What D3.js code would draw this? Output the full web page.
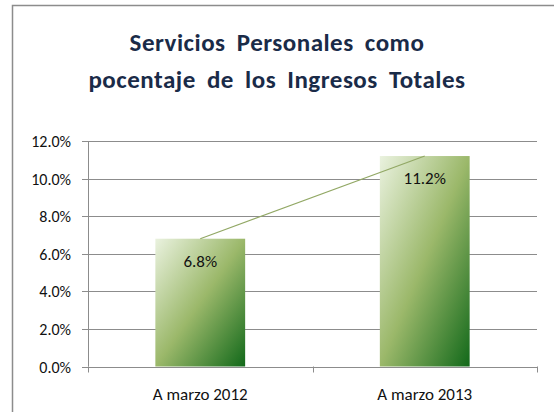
<!DOCTYPE html>
<html>
<head>
<meta charset="utf-8">
<script src="https://cdn.jsdelivr.net/npm/d3@7"></script>
<style>
  body { margin: 0; background: #fff; }
  svg { font-family: Carlito, Calibri, Lato, sans-serif; }
</style>
</head>
<body>
<div class="container"></div>
<script>
const categories = ["A marzo 2012", "A marzo 2013"]
const values = [6.8, 11.2]
const yTicks = [0, 2, 4, 6, 8, 10, 12]
const titleLines = ["Servicios Personales como", "pocentaje de los Ingresos Totales"]

const width = 554, height = 412
const svg = d3.select(".container").append("svg")
    .attr("width", width)
    .attr("height", height)

// chart frame (runs off right and bottom edge)
svg.append("rect")
    .attr("x", 12.5).attr("y", 5.5)
    .attr("width", 600).attr("height", 450)
    .attr("fill", "white")
    .attr("stroke", "#8c8c8c")
    .attr("stroke-width", 1.5)

svg.selectAll(".title").data(titleLines).enter()
    .append("text")
    .attr("x", 277)
    .attr("y", (d, i) => 51 + i * 37)
    .attr("text-anchor", "middle")
    .attr("font-size", 25)
    .attr("font-weight", "bold")
    .attr("letter-spacing", 0.5)
    .attr("word-spacing", 5)
    .attr("fill", "#1a2b48")
    .text(d => d)

const x = d3.scaleBand().domain(categories).range([88, 537]).paddingInner(0.6).paddingOuter(0.3)
const xOuter = d3.scaleBand().domain(categories).range([88, 537])
const y = d3.scaleLinear().domain([0, 12]).range([366.5, 141])

// gridlines
svg.selectAll(".grid").data(yTicks).enter()
    .append("line")
    .attr("x1", 82).attr("x2", 537)
    .attr("y1", d => Math.round(y(d)) + 0.5)
    .attr("y2", d => Math.round(y(d)) + 0.5)
    .attr("stroke", "#8c8c8c")
    .attr("stroke-width", 1)

// y axis line
svg.append("line")
    .attr("x1", 88.5).attr("x2", 88.5)
    .attr("y1", y(12)).attr("y2", y(0))
    .attr("stroke", "#8c8c8c")

svg.selectAll(".ylab").data(yTicks).enter()
    .append("text")
    .attr("x", 71)
    .attr("y", d => y(d) + 6)
    .attr("text-anchor", "end")
    .attr("font-size", 16)
    .attr("fill", "#111")
    .text(d => d.toFixed(1) + "%")

// x ticks
const xEdges = [88, 88 + xOuter.bandwidth(), 537]
svg.selectAll(".xtick").data(xEdges).enter()
    .append("line")
    .attr("x1", d => Math.round(d) + 0.5).attr("x2", d => Math.round(d) + 0.5)
    .attr("y1", y(0)).attr("y2", y(0) + 6)
    .attr("stroke", "#8c8c8c")

const defs = svg.append("defs")
const grad = defs.append("linearGradient")
    .attr("id", "barGrad")
    .attr("x1", 0).attr("y1", 0).attr("x2", 1).attr("y2", 1)
grad.append("stop").attr("offset", "0%").attr("stop-color", "#eaf2df")
grad.append("stop").attr("offset", "50%").attr("stop-color", "#9bb86a")
grad.append("stop").attr("offset", "100%").attr("stop-color", "#12691a")

svg.selectAll(".bar").data(values).enter()
    .append("rect")
    .attr("x", (d, i) => x(categories[i]))
    .attr("y", d => y(d))
    .attr("width", x.bandwidth())
    .attr("height", d => y(0) - y(d))
    .attr("fill", "url(#barGrad)")

// line joining bar tops
const line = d3.line()
    .x((d, i) => x(categories[i]) + x.bandwidth() / 2)
    .y(d => y(d))
svg.append("path")
    .datum(values)
    .attr("d", line)
    .attr("fill", "none")
    .attr("stroke", "#92a865")
    .attr("stroke-width", 1.2)

svg.selectAll(".vlab").data(values).enter()
    .append("text")
    .attr("x", (d, i) => x(categories[i]) + x.bandwidth() / 2)
    .attr("y", d => y(d) + 28)
    .attr("text-anchor", "middle")
    .attr("font-size", 17)
    .attr("fill", "#111")
    .text(d => d.toFixed(1) + "%")

svg.selectAll(".xlab").data(categories).enter()
    .append("text")
    .attr("x", d => xOuter(d) + xOuter.bandwidth() / 2)
    .attr("y", 400)
    .attr("text-anchor", "middle")
    .attr("font-size", 17)
    .attr("fill", "#111")
    .text(d => d)
</script>
</body>
</html>
